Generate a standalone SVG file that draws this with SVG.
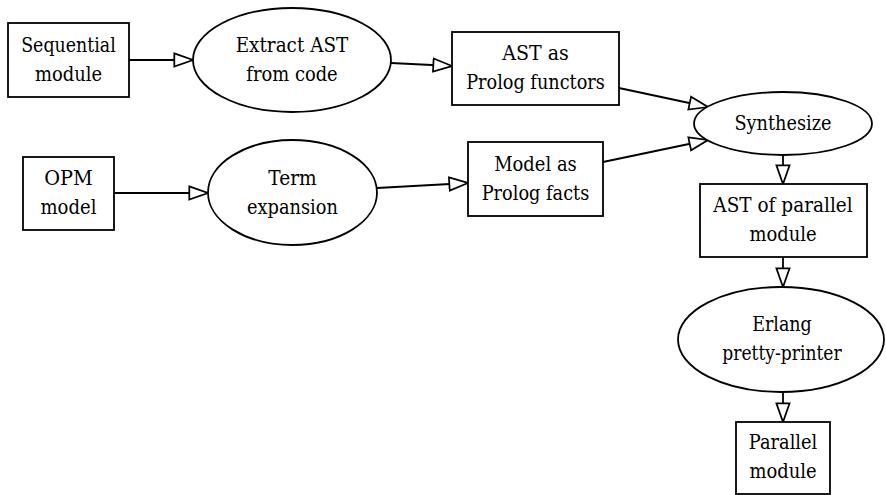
<svg xmlns="http://www.w3.org/2000/svg" width="886" height="495" viewBox="0 0 886 495">
  <style>
    .shape { fill: #ffffff; stroke: #000000; stroke-width: 1.8; }
    .edge { fill: none; stroke: #000000; stroke-width: 1.8; }
    .t { font-family: 'DejaVu Serif', serif; font-size: 20.5px; fill: #000000; text-anchor: middle; }
  </style>
  <defs>
    <marker id="hollow" markerUnits="userSpaceOnUse" markerWidth="22" markerHeight="16" viewBox="-1 -7 20 14" refX="17" refY="0" orient="auto">
      <path d="M0,-6 L17,0 L0,6 Z" fill="#ffffff" stroke="#000000" stroke-width="1.6"/>
    </marker>
  </defs>
  <rect width="886" height="495" fill="#ffffff"/>

  <!-- connectors -->
  <g id="edges">
    <path class="edge" d="M129,60 L193,60" marker-end="url(#hollow)"/>
    <path class="edge" d="M391,63 L452,66" marker-end="url(#hollow)"/>
    <path class="edge" d="M114,193 L208,193" marker-end="url(#hollow)"/>
    <path class="edge" d="M377,188 L468,183" marker-end="url(#hollow)"/>
    <path class="edge" d="M619,88 L708,107" marker-end="url(#hollow)"/>
    <path class="edge" d="M603,162 L708,140" marker-end="url(#hollow)"/>
    <path class="edge" d="M783,155 L783,184" marker-end="url(#hollow)"/>
    <path class="edge" d="M783,257 L783,287" marker-end="url(#hollow)"/>
    <path class="edge" d="M783,392 L783,422" marker-end="url(#hollow)"/>
  </g>

  <!-- nodes -->
  <g id="sequential-module">
    <rect class="shape" x="8" y="23" width="121" height="74"/>
    <text class="t" x="68.5" y="52" textLength="94.6" lengthAdjust="spacingAndGlyphs">Sequential</text>
    <text class="t" x="68.5" y="81" textLength="67.2" lengthAdjust="spacingAndGlyphs">module</text>
  </g>
  <g id="extract-ast">
    <ellipse class="shape" cx="292" cy="60" rx="99" ry="52"/>
    <text class="t" x="292" y="52" textLength="112.6" lengthAdjust="spacingAndGlyphs">Extract AST</text>
    <text class="t" x="292" y="81" textLength="91.4" lengthAdjust="spacingAndGlyphs">from code</text>
  </g>
  <g id="ast-functors">
    <rect class="shape" x="452" y="32" width="167" height="73"/>
    <text class="t" x="535.5" y="60" textLength="66.6" lengthAdjust="spacingAndGlyphs">AST as</text>
    <text class="t" x="535.5" y="89" textLength="138.7" lengthAdjust="spacingAndGlyphs">Prolog functors</text>
  </g>
  <g id="opm-model">
    <rect class="shape" x="23" y="157" width="91" height="73"/>
    <text class="t" x="68.5" y="185" textLength="48.5" lengthAdjust="spacingAndGlyphs">OPM</text>
    <text class="t" x="68.5" y="214" textLength="56" lengthAdjust="spacingAndGlyphs">model</text>
  </g>
  <g id="term-expansion">
    <ellipse class="shape" cx="292.5" cy="192.5" rx="84.5" ry="52.5"/>
    <text class="t" x="292.5" y="185" textLength="48.5" lengthAdjust="spacingAndGlyphs">Term</text>
    <text class="t" x="292.5" y="214" textLength="90.8" lengthAdjust="spacingAndGlyphs">expansion</text>
  </g>
  <g id="model-facts">
    <rect class="shape" x="468" y="142" width="135" height="74"/>
    <text class="t" x="535.5" y="171" textLength="82.7" lengthAdjust="spacingAndGlyphs">Model as</text>
    <text class="t" x="535.5" y="200" textLength="107.6" lengthAdjust="spacingAndGlyphs">Prolog facts</text>
  </g>
  <g id="synthesize">
    <ellipse class="shape" cx="783" cy="123.5" rx="89" ry="31.5"/>
    <text class="t" x="783" y="130" textLength="97.1" lengthAdjust="spacingAndGlyphs">Synthesize</text>
  </g>
  <g id="ast-parallel">
    <rect class="shape" x="700" y="184" width="167" height="73"/>
    <text class="t" x="783" y="212" textLength="139.4" lengthAdjust="spacingAndGlyphs">AST of parallel</text>
    <text class="t" x="783" y="241" textLength="67.2" lengthAdjust="spacingAndGlyphs">module</text>
  </g>
  <g id="pretty-printer">
    <ellipse class="shape" cx="781" cy="339.5" rx="103" ry="52.5"/>
    <text class="t" x="782" y="331" textLength="59.7" lengthAdjust="spacingAndGlyphs">Erlang</text>
    <text class="t" x="782" y="360" textLength="119.4" lengthAdjust="spacingAndGlyphs">pretty-printer</text>
  </g>
  <g id="parallel-module">
    <rect class="shape" x="736" y="422" width="94" height="72"/>
    <text class="t" x="783" y="449" textLength="68.4" lengthAdjust="spacingAndGlyphs">Parallel</text>
    <text class="t" x="783" y="478" textLength="67.2" lengthAdjust="spacingAndGlyphs">module</text>
  </g>
</svg>
